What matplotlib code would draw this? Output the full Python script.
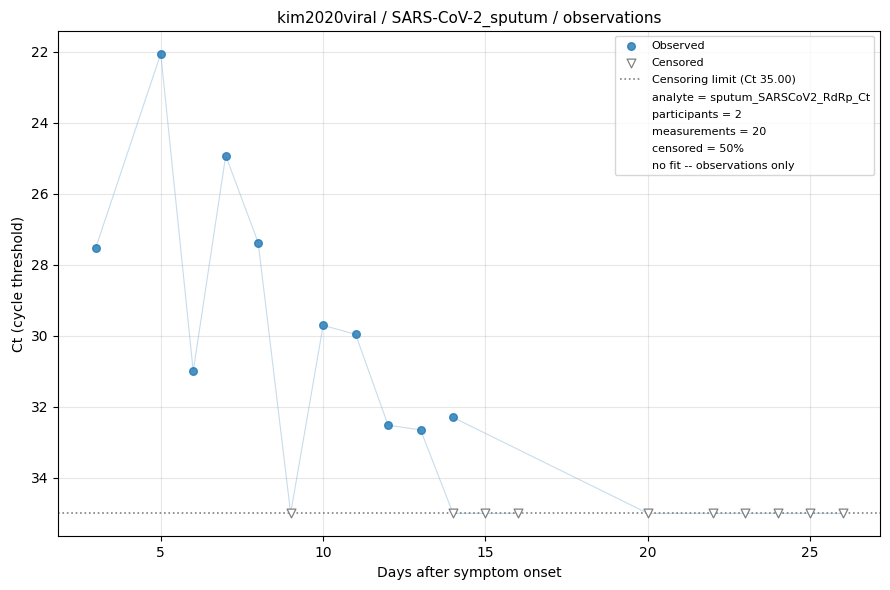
import matplotlib
matplotlib.use("Agg")
import matplotlib.pyplot as plt
from matplotlib.lines import Line2D

# participant 1
p1_days = [3, 5, 6, 7, 8, 9, 10, 11, 12, 13, 14, 15, 16]
p1_ct = [27.52, 22.06, 31.0, 24.93, 27.38, 35.0, 29.71, 29.96, 32.52, 32.65, 35.0, 35.0, 35.0]
p1_cens = [False, False, False, False, False, True, False, False, False, False, True, True, True]

# participant 2
p2_days = [14, 20, 22, 23, 24, 25, 26]
p2_ct = [32.3, 35.0, 35.0, 35.0, 35.0, 35.0, 35.0]
p2_cens = [False, True, True, True, True, True, True]

limit = 35.0
info_lines = [
    "analyte = sputum_SARSCoV2_RdRp_Ct",
    "participants = 2",
    "measurements = 20",
    "censored = 50%",
    "no fit -- observations only",
]

fig, ax = plt.subplots(figsize=(8.9, 5.9), dpi=100)
fig.subplots_adjust(left=0.0657, right=0.9888, bottom=0.091, top=0.948)

participants = [(p1_days, p1_ct, p1_cens), (p2_days, p2_ct, p2_cens)]
for days, ct, cens in participants:
    ax.plot(days, ct, color="#1f77b4", alpha=0.25, lw=0.8, zorder=1)

obs_x, obs_y, cen_x, cen_y = [], [], [], []
for days, ct, cens in participants:
    for d, c, is_c in zip(days, ct, cens):
        if is_c:
            cen_x.append(d)
            cen_y.append(c)
        else:
            obs_x.append(d)
            obs_y.append(c)

ax.scatter(obs_x, obs_y, s=30, color="#1f77b4", alpha=0.8, zorder=3, label="Observed")
ax.scatter(cen_x, cen_y, s=40, marker="v", facecolors="white", edgecolors="gray",
           linewidths=0.9, zorder=3, label="Censored")
ax.axhline(limit, color="gray", ls=":", lw=1.2, zorder=2,
           label=f"Censoring limit (Ct {limit:.2f})")

ax.invert_yaxis()
ax.set_xlabel("Days after symptom onset")
ax.set_ylabel("Ct (cycle threshold)")
ax.set_title("kim2020viral / SARS-CoV-2_sputum / observations", fontsize=11)
ax.grid(True, alpha=0.3)

handles, labels = ax.get_legend_handles_labels()
for t in info_lines:
    handles.append(Line2D([], [], color="none"))
    labels.append(t)
ax.legend(handles, labels, loc="upper right", fontsize=8, labelspacing=0.63,
          handletextpad=0.9)

fig.savefig("out.png")
